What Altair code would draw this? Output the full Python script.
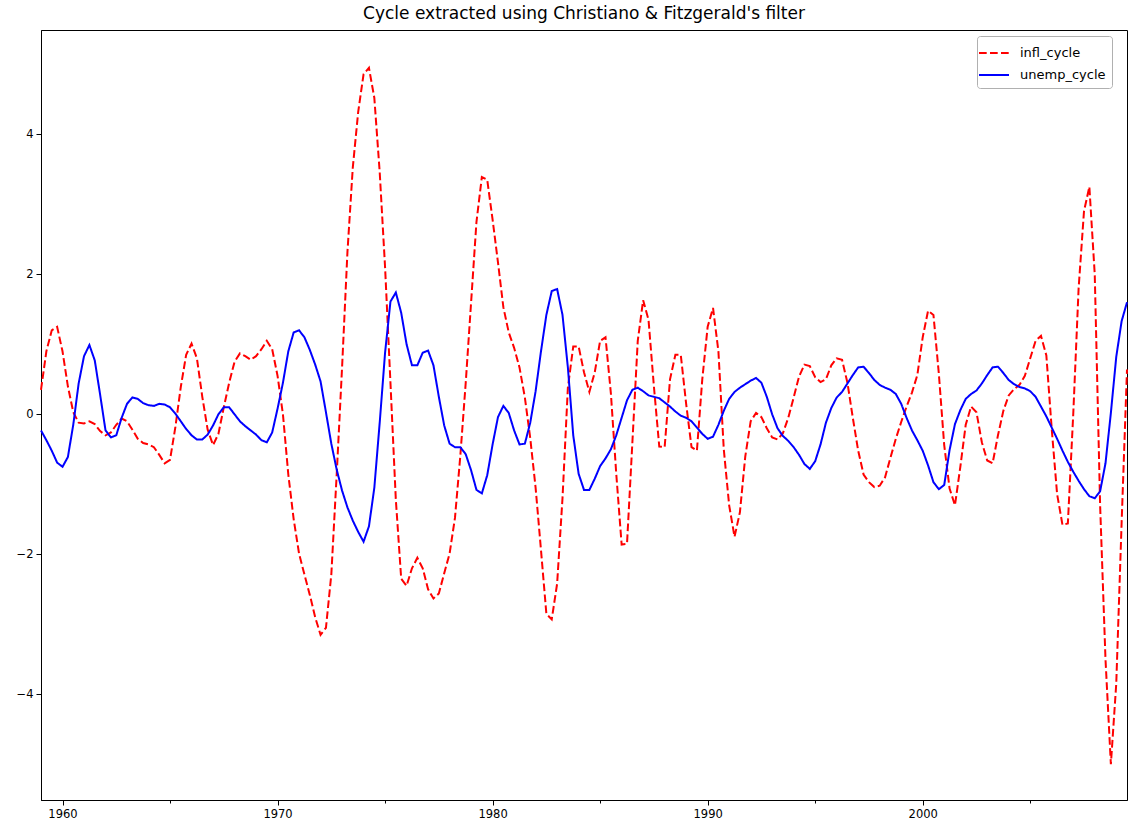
import altair as alt
import pandas as pd

# Quarterly data, 1959Q1 .. 2009Q3
start_year = 1959
series_names = ["infl_cycle", "unemp_cycle"]

infl_cycle = [
    0.35, 0.9, 1.2, 1.25, 0.9, 0.4, 0.03, -0.12, -0.13, -0.1,
    -0.14, -0.24, -0.3, -0.26, -0.15, -0.06, -0.1, -0.22, -0.35, -0.41,
    -0.43, -0.47, -0.58, -0.7, -0.65, -0.18, 0.39, 0.85, 1.01, 0.8,
    0.25, -0.22, -0.44, -0.28, 0.1, 0.45, 0.75, 0.87, 0.83, 0.78,
    0.83, 0.93, 1.05, 0.93, 0.55, 0.0, -0.86, -1.5, -1.99, -2.29,
    -2.58, -2.9, -3.15, -3.05, -2.29, -0.86, 0.67, 2.32, 3.53, 4.32,
    4.86, 4.95, 4.52, 3.46, 2.1, 0.45, -1.22, -2.35, -2.45, -2.2,
    -2.05, -2.2, -2.5, -2.63, -2.56, -2.27, -1.99, -1.48, -0.59, 0.45,
    1.6, 2.75, 3.39, 3.35, 2.78, 2.17, 1.53, 1.17, 0.95, 0.67,
    0.24, -0.34, -1.05, -1.94, -2.85, -2.93, -2.42, -1.2, 0.38, 0.97,
    0.97, 0.6, 0.32, 0.6, 1.05, 1.1, 0.3, -0.85, -1.86, -1.85,
    -0.4, 1.05, 1.63, 1.35, 0.4, -0.46, -0.47, 0.5, 0.85, 0.85,
    0.15, -0.47, -0.52, 0.5, 1.25, 1.52, 0.9, -0.5, -1.3, -1.75,
    -1.4, -0.6, -0.1, 0.02, -0.04, -0.2, -0.33, -0.36, -0.27, -0.05,
    0.24, 0.54, 0.71, 0.69, 0.53, 0.46, 0.5, 0.7, 0.8, 0.78,
    0.45, -0.05, -0.52, -0.86, -0.97, -1.04, -1.02, -0.9, -0.62, -0.35,
    -0.11, 0.11, 0.31, 0.56, 1.1, 1.48, 1.42, 0.58, -0.44, -1.06,
    -1.3, -0.75, -0.15, 0.11, 0.03, -0.4, -0.66, -0.7, -0.3, 0.05,
    0.27, 0.36, 0.42, 0.55, 0.8, 1.05, 1.12, 0.84, -0.21, -1.14,
    -1.58, -1.56, 0.0, 1.8, 2.9, 3.25, 2.0, -1.3, -3.5, -5.0,
    -3.85, -1.55, 0.64,
]

unemp_cycle = [
    -0.23, -0.37, -0.52, -0.69, -0.75, -0.61, -0.15, 0.44, 0.83, 0.99,
    0.77, 0.28, -0.23, -0.33, -0.3, -0.05, 0.15, 0.24, 0.22, 0.16,
    0.13, 0.12, 0.15, 0.14, 0.1, 0.01, -0.1, -0.21, -0.3, -0.36,
    -0.36, -0.29, -0.16, 0.0, 0.1, 0.1, 0.0, -0.1, -0.17, -0.23,
    -0.29, -0.37, -0.4, -0.26, 0.08, 0.45, 0.9, 1.17, 1.2, 1.1,
    0.92, 0.71, 0.47, 0.03, -0.42, -0.79, -1.09, -1.33, -1.52, -1.68,
    -1.82, -1.6, -1.05, -0.12, 0.88, 1.61, 1.74, 1.45, 1.0, 0.7,
    0.7, 0.88, 0.91, 0.7, 0.25, -0.16, -0.42, -0.47, -0.47, -0.57,
    -0.8, -1.08, -1.13, -0.87, -0.43, -0.04, 0.12, 0.02, -0.23, -0.43,
    -0.42, -0.12, 0.33, 0.9, 1.42, 1.76, 1.79, 1.42, 0.67, -0.3,
    -0.85, -1.08, -1.08, -0.92, -0.74, -0.63, -0.5, -0.3, -0.05, 0.2,
    0.35, 0.38, 0.33, 0.27, 0.25, 0.23, 0.17, 0.11, 0.04, -0.02,
    -0.05, -0.1, -0.19, -0.28, -0.35, -0.32, -0.15, 0.05, 0.22, 0.32,
    0.38, 0.43, 0.48, 0.52, 0.45, 0.25, 0.0, -0.2, -0.31, -0.38,
    -0.47, -0.58, -0.71, -0.78, -0.67, -0.43, -0.12, 0.09, 0.24, 0.32,
    0.44, 0.56, 0.67, 0.68, 0.59, 0.49, 0.42, 0.38, 0.35, 0.29,
    0.15, -0.05, -0.23, -0.37, -0.52, -0.73, -0.97, -1.07, -1.01, -0.51,
    -0.14, 0.06, 0.22, 0.29, 0.34, 0.44, 0.56, 0.67, 0.68, 0.59,
    0.49, 0.43, 0.39, 0.37, 0.33, 0.25, 0.11, -0.03, -0.19, -0.35,
    -0.52, -0.68, -0.82, -0.95, -1.07, -1.17, -1.2, -1.1, -0.7, 0.02,
    0.82, 1.33, 1.6,
]

major_ticks = [1960, 1970, 1980, 1990, 2000]
minor_ticks = [1965, 1975, 1985, 1995, 2005]
y_ticks = [-4, -2, 0, 2, 4]

n = len(infl_cycle)
dates = [start_year + q / 4 for q in range(n)]

df_infl = pd.DataFrame({"t": dates, "value": infl_cycle, "series": series_names[0]})
df_unemp = pd.DataFrame({"t": dates, "value": unemp_cycle, "series": series_names[1]})

xscale = alt.Scale(domain=[1959, 2009.5], nice=False, zero=False)
yscale = alt.Scale(domain=[-5.51, 5.49], nice=False, zero=False)

legend = alt.Legend(title=None, orient="none", legendX=936, legendY=6)

color = alt.Color("series:N", scale=alt.Scale(domain=series_names, range=["#ff0000", "#0000ff"]), legend=legend)
dash = alt.StrokeDash("series:N", scale=alt.Scale(domain=series_names, range=[[7.7, 3.3], [1, 0]]), legend=legend)

y_enc = alt.Y("value:Q", scale=yscale,
              axis=alt.Axis(values=y_ticks, title=None, format="d", tickSize=5, labelPadding=3))

infl_layer = alt.Chart(df_infl).mark_line(strokeWidth=2).encode(
    x=alt.X("t:Q", scale=xscale,
            axis=alt.Axis(values=major_ticks, format="d", title=None, tickSize=5,
                          labelPadding=3, orient="bottom")),
    y=y_enc, color=color, strokeDash=dash,
)

unemp_layer = alt.Chart(df_unemp).mark_line(strokeWidth=2).encode(
    x=alt.X("t:Q", scale=xscale,
            axis=alt.Axis(values=minor_ticks, labels=False, title=None, tickSize=3,
                          domain=False, orient="bottom")),
    y=y_enc, color=color, strokeDash=dash,
)

chart = alt.layer(infl_layer, unemp_layer).resolve_axis(x="independent").properties(
    width=1086, height=770,
    padding={"left": 41, "top": 30, "right": 8, "bottom": 34},
    autosize=alt.AutoSizeParams(type="none"),
    title=alt.TitleParams("Cycle extracted using Christiano & Fitzgerald's filter",
                          font="DejaVu Sans", fontSize=17, fontWeight="normal",
                          color="black", anchor="middle", offset=7),
    background="white",
).configure_axis(
    labelFont="DejaVu Sans", labelFontSize=11.5, labelColor="black",
    tickColor="black", domainColor="black", grid=False,
).configure_legend(
    symbolType="M-1.5,0L1.5,0", symbolSize=400, symbolStrokeWidth=2,
    labelFont="DejaVu Sans", labelFontSize=13, labelColor="black",
    labelOffset=15, rowPadding=4, padding=6,
    strokeColor="#b0b0b0", fillColor="white", cornerRadius=3,
).configure_view(stroke="black", strokeWidth=1)

chart.save("out.html", embed_options={"renderer": "svg", "actions": False})
